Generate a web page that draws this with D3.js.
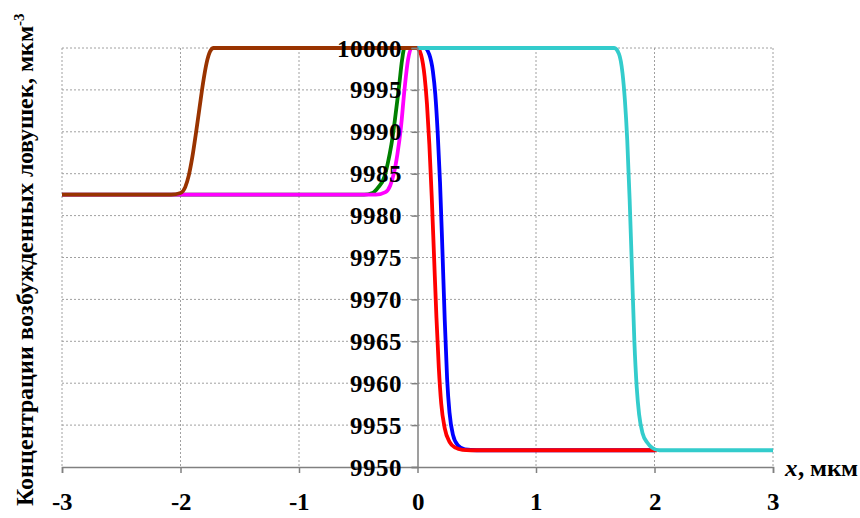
<!DOCTYPE html>
<html><head><meta charset="utf-8">
<script src="https://cdn.jsdelivr.net/npm/d3@7"></script>
<style>
@font-face { font-family: "ChartSerif"; font-weight: bold; font-style: normal;
  src: local("Liberation Serif Bold"), local("LiberationSerif-Bold"), local("Times New Roman Bold"); }
@font-face { font-family: "ChartSerif"; font-weight: bold; font-style: italic;
  src: local("Liberation Serif Bold Italic"), local("LiberationSerif-BoldItalic"), local("Times New Roman Bold Italic"); }
</style>
</head>
<body style="margin:0"><svg id="c" width="860" height="518"></svg>
<script>
// ---- data ----
const xTicks = [-3, -2, -1, 0, 1, 2, 3];
const yTicks = [9950, 9955, 9960, 9965, 9970, 9975, 9980, 9985, 9990, 9995, 10000];
const yTitle = "Концентрации возбужденных ловушек, мкм";
const yTitleSup = "-3";
const xTitleVar = "x";
const xTitleUnit = ", мкм";

const greenX = [-3, -0.45, -0.38, -0.33, -0.28, -0.25, -0.22, -0.19, -0.155, -0.13, -0.11, 0];
const greenY = [9982.5, 9982.5, 9982.7, 9983.4, 9984.6, 9986.3, 9988.5, 9991.5, 9995.5, 9998.6, 10000, 10000];

const magentaX = [-3, -0.35, -0.27, -0.23, -0.2, -0.17, -0.14, -0.11, -0.08, -0.05, 0];
const magentaY = [9982.5, 9982.5, 9982.8, 9983.6, 9985, 9987.3, 9990.5, 9995, 9998.6, 10000, 10000];

const brownX = [-3, -2.08, -2.0, -1.96, -1.93, -1.9, -1.87, -1.84, -1.81, -1.78, -1.75, -1.72, -1.69, 0];
const brownY = [9982.5, 9982.5, 9982.7, 9983.4, 9984.8, 9987, 9989.8, 9992.8, 9995.8, 9998.2, 9999.6, 10000, 10000, 10000];

const blueX = [0, 0.06, 0.1, 0.13, 0.15, 0.17, 0.19, 0.21, 0.23, 0.25, 0.27, 0.3, 0.34, 0.4, 0.5, 2.0];
const blueY = [10000, 10000, 9999.2, 9997.2, 9994.5, 9990, 9984, 9976, 9967.5, 9960.5, 9956.5, 9953.8, 9952.6, 9952.1, 9952, 9952];

const redX = [0, 0.03, 0.06, 0.08, 0.1, 0.12, 0.14, 0.16, 0.18, 0.2, 0.23, 0.27, 0.32, 0.38, 0.45, 2.02];
const redY = [10000, 9999.2, 9996.6, 9993.3, 9988.5, 9982.3, 9975, 9967.8, 9961.8, 9957.6, 9954.6, 9953, 9952.3, 9952.05, 9952, 9952];

const cyanX = [0, 1.66, 1.7, 1.73, 1.75, 1.77, 1.79, 1.81, 1.83, 1.85, 1.87, 1.9, 1.94, 1.98, 2.04, 3];
const cyanY = [10000, 10000, 9999.3, 9997, 9993.8, 9989, 9982, 9973.5, 9965, 9959.5, 9956.3, 9954, 9952.9, 9952.3, 9952, 9952];

const seriesOrder = [
  {x: greenX, y: greenY, color: "#008000"},
  {x: magentaX, y: magentaY, color: "#ff00ff"},
  {x: brownX, y: brownY, color: "#993300"},
  {x: blueX, y: blueY, color: "#0000ff"},
  {x: redX, y: redY, color: "#ff0000"},
  {x: cyanX, y: cyanY, color: "#33cccc"}
];

// ---- drawing ----
const svg = d3.select("#c");
const x = d3.scaleLinear().domain([-3, 3]).range([62, 773]);
const y = d3.scaleLinear().domain([9950, 10000]).range([467, 48]);
const FAM = "ChartSerif, 'Liberation Serif', 'Times New Roman', serif";

function serif(sel, size) {
  sel.attr("font-family", FAM)
     .attr("font-weight", "bold")
     .attr("font-size", size)
     .style("font-family", FAM)
     .style("font-weight", "bold")
     .style("font-size", size + "px");
}

// grid
const grid = svg.append("g");
grid.selectAll("line.h").data(yTicks.filter(d => d > 9950)).join("line")
  .attr("x1", x(-3)).attr("x2", x(3))
  .attr("y1", d => y(d)).attr("y2", d => y(d))
  .attr("stroke", "#a0a0a0").attr("stroke-width", 1).attr("stroke-dasharray", "2,2");
grid.selectAll("line.v").data(xTicks.filter(d => d !== 0)).join("line")
  .attr("x1", d => x(d)).attr("x2", d => x(d))
  .attr("y1", y(10000)).attr("y2", y(9950))
  .attr("stroke", "#a0a0a0").attr("stroke-width", 1).attr("stroke-dasharray", "2,2");

// axes
const xAxis = svg.append("g").attr("transform", `translate(0,${y(9950)})`)
  .call(d3.axisBottom(x).tickValues(xTicks).tickSize(6).tickPadding(19).tickFormat(d3.format("d")));
serif(xAxis, 25);
xAxis.select(".domain").attr("stroke", "#808080").attr("stroke-width", 1.5);
xAxis.selectAll(".tick line").attr("stroke", "#808080").attr("stroke-width", 1.5);
xAxis.selectAll("text").call(serif, 25).attr("fill", "#000")
  .text(d => d < 0 ? "-" + Math.abs(d) : d);

const yAxis = svg.append("g").attr("transform", `translate(${x(0)},0)`)
  .call(d3.axisLeft(y).tickValues(yTicks).tickSize(6).tickPadding(10).tickFormat(d3.format("d")));
serif(yAxis, 25);
yAxis.select(".domain").attr("stroke", "#808080").attr("stroke-width", 1.5);
yAxis.selectAll(".tick line").attr("stroke", "#808080").attr("stroke-width", 1.5);
yAxis.selectAll("text").call(serif, 25).attr("fill", "#000");

// lines
const lineGen = d3.line().x(d => x(d[0])).y(d => y(d[1])).curve(d3.curveMonotoneX);
const lines = svg.append("g");
seriesOrder.forEach(s => {
  lines.append("path")
    .datum(s.x.map((v, i) => [v, s.y[i]]))
    .attr("d", lineGen)
    .attr("fill", "none")
    .attr("stroke", s.color)
    .attr("stroke-width", 3.8)
    .attr("stroke-linejoin", "round");
});

// bring y labels above lines
yAxis.raise();

// titles
const yt = svg.append("text")
  .attr("transform", "translate(33,259) rotate(-90)")
  .attr("text-anchor", "middle")
  .call(serif, 24);
yt.append("tspan").text(yTitle);
yt.append("tspan").attr("dy", -9).attr("font-size", 15).style("font-size", "15px").text(yTitleSup);

const xt = svg.append("text").attr("x", 785).attr("y", 476).call(serif, 25);
xt.append("tspan").attr("font-style", "italic").style("font-style", "italic").text(xTitleVar);
xt.append("tspan").text(xTitleUnit);
</script></body></html>
